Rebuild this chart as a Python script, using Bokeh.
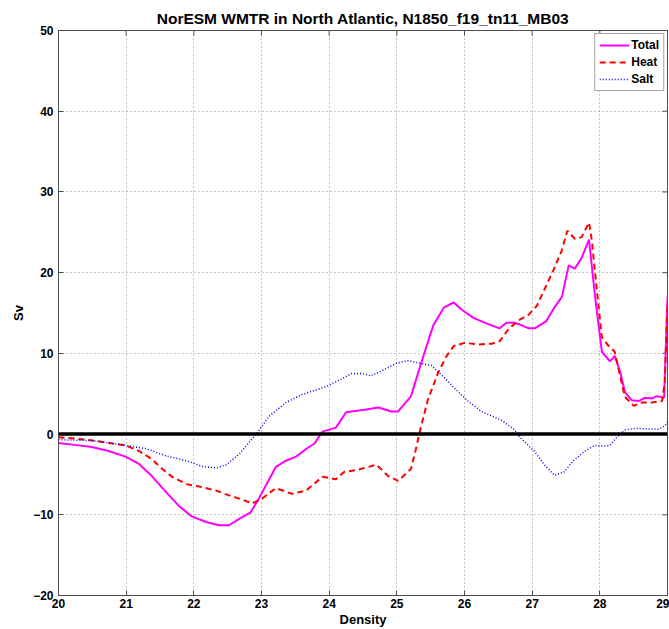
import math
from bokeh.plotting import figure
from bokeh.models import (ColumnDataSource, Span, Legend, LegendItem,
                          FixedTicker, Title, Range1d)
from bokeh.embed import file_html
from bokeh.resources import INLINE

# Water-mass transformation (Sv) against density
total_density = [20.00, 20.30, 20.49, 20.74, 20.99, 21.19, 21.38, 21.59, 21.78, 21.97,
                 22.18, 22.37, 22.52, 22.67, 22.84, 22.96, 23.21, 23.36, 23.51, 23.70,
                 23.78, 23.90, 24.10, 24.25, 24.33, 24.52, 24.73, 24.92, 25.02, 25.21,
                 25.33, 25.44, 25.54, 25.70, 25.84, 25.96, 26.13, 26.36, 26.52, 26.62,
                 26.73, 26.81, 26.95, 27.04, 27.21, 27.33, 27.44, 27.54, 27.63, 27.73,
                 27.84, 27.93, 28.03, 28.15, 28.22, 28.30, 28.37, 28.47, 28.58, 28.67,
                 28.77, 28.84, 28.95, 29.00]
total_sv = [-1.1, -1.4, -1.6, -2.1, -2.8, -3.7, -5.2, -7.2, -8.9, -10.2,
            -10.9, -11.3, -11.3, -10.5, -9.7, -8.0, -4.1, -3.3, -2.8, -1.6,
            -1.2, 0.3, 0.8, 2.7, 2.8, 3.0, 3.3, 2.8, 2.8, 4.7,
            8.0, 10.9, 13.5, 15.7, 16.3, 15.4, 14.4, 13.6, 13.1, 13.8,
            13.8, 13.6, 13.1, 13.1, 14.0, 15.7, 17.0, 20.9, 20.5, 21.8,
            24.1, 17.0, 10.2, 9.0, 9.7, 7.7, 5.2, 4.2, 4.1, 4.5,
            4.4, 4.7, 4.5, 17.0]

heat_density = [20.00, 20.30, 20.59, 20.99, 21.19, 21.38, 21.53, 21.68, 21.89, 22.08,
                22.33, 22.52, 22.71, 22.86, 23.01, 23.21, 23.45, 23.66, 23.90, 24.10,
                24.22, 24.43, 24.70, 24.87, 25.02, 25.21, 25.28, 25.36, 25.46, 25.61,
                25.73, 25.84, 26.00, 26.21, 26.40, 26.52, 26.65, 26.80, 26.95, 27.07,
                27.18, 27.32, 27.44, 27.52, 27.63, 27.73, 27.84, 27.88, 27.96, 28.03,
                28.13, 28.22, 28.30, 28.37, 28.50, 28.62, 28.77, 28.92, 28.96, 29.00]
heat_sv = [-0.4, -0.6, -0.9, -1.4, -2.1, -3.1, -4.3, -5.3, -6.2, -6.5,
           -7.0, -7.6, -8.1, -8.6, -8.0, -6.7, -7.4, -7.0, -5.3, -5.6,
           -4.7, -4.4, -3.8, -5.2, -5.8, -4.3, -1.9, 1.0, 4.3, 7.6,
           9.6, 10.9, 11.3, 11.1, 11.2, 11.5, 13.0, 14.1, 14.8, 15.9,
           17.9, 20.4, 22.8, 25.2, 24.2, 24.4, 26.2, 24.1, 17.5, 12.0,
           10.9, 10.2, 7.2, 4.6, 3.5, 3.9, 3.9, 4.1, 6.4, 16.3]

salt_density = [20.00, 20.49, 20.99, 21.29, 21.59, 21.89, 22.12, 22.33, 22.48, 22.67,
                22.86, 22.96, 23.11, 23.36, 23.60, 23.96, 24.18, 24.33, 24.48, 24.62,
                24.77, 25.00, 25.17, 25.33, 25.51, 25.70, 25.90, 26.05, 26.25, 26.55,
                26.73, 26.82, 27.03, 27.19, 27.33, 27.47, 27.61, 27.78, 27.93, 28.06,
                28.15, 28.25, 28.37, 28.52, 28.87, 28.96, 29.00]
salt_sv = [-0.7, -0.8, -1.4, -1.8, -2.7, -3.3, -4.0, -4.2, -3.8, -2.5,
           -0.6, 0.4, 2.2, 3.9, 4.9, 5.9, 6.8, 7.5, 7.5, 7.2,
           7.8, 8.8, 9.1, 8.8, 8.5, 7.0, 5.3, 4.1, 2.8, 1.7,
           0.6, -0.4, -2.1, -3.9, -5.1, -4.7, -3.3, -2.1, -1.4, -1.5,
           -1.4, -0.4, 0.5, 0.7, 0.6, 1.0, 1.5]

x_ticks = [20, 21, 22, 23, 24, 25, 26, 27, 28, 29]
y_ticks = [-20, -10, 0, 10, 20, 30, 40, 50]
x_lim = (20, 29)
y_lim = (-20, 50)

FONT = "Liberation Sans"
AXIS_COLOR = "#4d4d4d"

p = figure(width=669, height=629, output_backend="svg", toolbar_location=None,
           x_range=Range1d(*x_lim), y_range=Range1d(*y_lim),
           min_border_left=58, min_border_right=2, min_border_top=30,
           min_border_bottom=31)

p.title = Title(text="NorESM WMTR in North Atlantic, N1850_f19_tn11_MB03",
                align="center", text_font=FONT, text_font_size="15.5px",
                text_font_style="bold", text_color="black", standoff=7)

p.outline_line_color = AXIS_COLOR
p.background_fill_color = "white"
p.border_fill_color = "white"

# main axes, ticks pointing inwards
for ax, ticks in ((p.xaxis[0], x_ticks), (p.yaxis[0], y_ticks)):
    ax.ticker = FixedTicker(ticks=ticks)
    ax.major_tick_in = 5
    ax.major_tick_out = 0
    ax.minor_tick_in = 0
    ax.minor_tick_out = 0
    ax.axis_line_color = AXIS_COLOR
    ax.major_tick_line_color = AXIS_COLOR
    ax.major_label_text_font = FONT
    ax.major_label_text_font_size = "12px"
    ax.major_label_text_font_style = "bold"
    ax.major_label_text_color = "black"
    ax.axis_label_text_font = FONT
    ax.axis_label_text_font_size = "13px"
    ax.axis_label_text_font_style = "bold"
    ax.axis_label_text_color = "black"

p.xaxis.axis_label = "Density"
p.yaxis.axis_label = "Sv"
p.xaxis.major_label_standoff = 3
p.xaxis.axis_label_standoff = 1
p.yaxis.major_label_standoff = 5
p.yaxis.axis_label_standoff = 4

p.xgrid.ticker = FixedTicker(ticks=x_ticks)
p.ygrid.ticker = FixedTicker(ticks=y_ticks)
p.grid.grid_line_color = "#8c8c8c"
p.grid.grid_line_dash = "1 3"
p.grid.grid_line_width = 1

# box ticks along the top and right edges (half of each dash is clipped by the frame)
p.scatter(x=x_ticks, y=[y_lim[1]] * len(x_ticks), marker="dash", size=10,
          angle=math.pi / 2, line_color=AXIS_COLOR, line_width=1)
p.scatter(x=[x_lim[1]] * len(y_ticks), y=y_ticks, marker="dash", size=10,
          line_color=AXIS_COLOR, line_width=1)

p.add_layout(Span(location=0, dimension="width", line_color="black", line_width=3.5))

src_total = ColumnDataSource(dict(x=total_density, y=total_sv))
src_heat = ColumnDataSource(dict(x=heat_density, y=heat_sv))
src_salt = ColumnDataSource(dict(x=salt_density, y=salt_sv))

r_total = p.line("x", "y", source=src_total, line_color="#ff00ff", line_width=2)
r_heat = p.line("x", "y", source=src_heat, line_color="#ff0000", line_width=2,
                line_dash="6 4")
r_salt = p.line("x", "y", source=src_salt, line_color="#0000ff", line_width=1.5,
                line_dash="1 2")

legend = Legend(items=[LegendItem(label="Total", renderers=[r_total]),
                       LegendItem(label="Heat", renderers=[r_heat]),
                       LegendItem(label="Salt", renderers=[r_salt])],
                location="top_right")
legend.label_text_font = FONT
legend.label_text_font_size = "12px"
legend.label_text_font_style = "bold"
legend.label_text_color = "black"
legend.glyph_width = 30
legend.glyph_height = 14
legend.label_height = 14
legend.spacing = 3
legend.padding = 4
legend.margin = 3
legend.label_standoff = 2
legend.border_line_color = AXIS_COLOR
legend.border_line_width = 1
legend.background_fill_alpha = 1
p.add_layout(legend, "center")

open("out.html", "w").write(file_html(p, INLINE))
